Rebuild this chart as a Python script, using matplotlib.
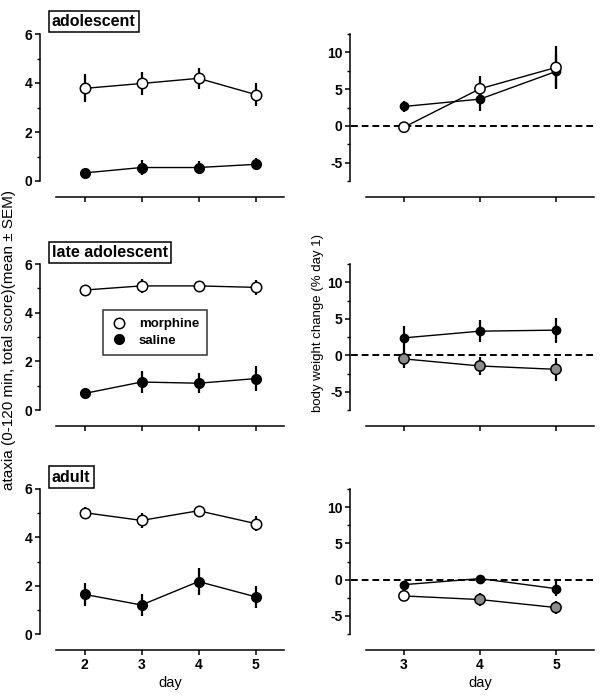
import matplotlib
matplotlib.use("Agg")
import matplotlib.pyplot as plt
from matplotlib.lines import Line2D
from matplotlib.ticker import MultipleLocator

plt.rcParams["font.family"] = ["Liberation Sans", "DejaVu Sans"]
plt.rcParams["axes.unicode_minus"] = False

W, H = 604, 698

days_ataxia = [2, 3, 4, 5]
days_weight = [3, 4, 5]
age_groups = ["adolescent", "late adolescent", "adult"]

# ataxia score (mean, sem) per age group
ataxia_morphine = [[3.78, 3.98, 4.19, 3.53],
                   [4.93, 5.10, 5.10, 5.04],
                   [5.02, 4.70, 5.10, 4.57]]
ataxia_morphine_err = [[0.57, 0.47, 0.42, 0.48],
                       [0.10, 0.30, 0.15, 0.30],
                       [0.22, 0.32, 0.15, 0.30]]
ataxia_saline = [[0.33, 0.55, 0.55, 0.68],
                 [0.68, 1.15, 1.10, 1.29],
                 [1.64, 1.20, 2.17, 1.54]]
ataxia_saline_err = [[0.08, 0.30, 0.25, 0.25],
                     [0.10, 0.46, 0.42, 0.50],
                     [0.47, 0.45, 0.55, 0.45]]

# body weight change (% day 1)
weight_morphine = [[-0.18, 5.05, 7.95],
                   [-0.50, -1.47, -1.93],
                   [-2.25, -2.75, -3.85]]
weight_morphine_err = [[0.50, 1.80, 2.90],
                       [1.20, 1.20, 1.60],
                       [0.60, 0.90, 0.95]]
weight_morphine_face = [["white", "white", "white"],
                        ["#8c8c8c", "#8c8c8c", "#8c8c8c"],
                        ["white", "#8c8c8c", "#8c8c8c"]]
weight_saline = [[2.64, 3.64, 7.40],
                 [2.38, 3.30, 3.44],
                 [-0.69, 0.14, -1.24]]
weight_saline_err = [[0.80, 1.60, 2.30],
                     [1.60, 1.50, 1.70],
                     [0.30, 0.30, 1.00]]

# axes boxes in pixels: (top, bottom) per row, (left, right) per column
rows_px = [(34, 181), (264, 410), (489, 634)]
left_x = (56, 284)
right_x = (366, 594)
title_y = [21.5, 252.5, 477]


def px_axes(x0, x1, y0, y1):
    return fig.add_axes([x0 / W, 1 - y1 / H, (x1 - x0) / W, (y1 - y0) / H])


def style(ax):
    for s in ("top", "right"):
        ax.spines[s].set_visible(False)
    for s in ("left", "bottom"):
        ax.spines[s].set_linewidth(1.1)
        ax.spines[s].set_position(("outward", 11.5))
    ax.tick_params(which="major", length=3.5, width=1.1, pad=2,
                   labelsize=10)
    ax.tick_params(which="minor", length=2.2, width=1.0)
    ax.tick_params(axis="x", which="minor", length=0)
    for lab in ax.get_xticklabels() + ax.get_yticklabels():
        lab.set_fontweight("bold")


fig = plt.figure(figsize=(W / 100, H / 100), dpi=100)

for i, (top, bot) in enumerate(rows_px):
    # ataxia panel
    ax = px_axes(left_x[0], left_x[1], top, bot)
    ax.errorbar(days_ataxia, ataxia_saline[i], yerr=ataxia_saline_err[i],
                color="black", lw=1.0, elinewidth=1.6, capsize=0,
                marker="o", ms=7, mfc="black", mec="black", clip_on=False,
                zorder=3)
    ax.errorbar(days_ataxia, ataxia_morphine[i], yerr=ataxia_morphine_err[i],
                color="black", lw=1.0, elinewidth=1.6, capsize=0,
                marker="o", ms=7.5, mfc="white", mec="black", mew=1.1,
                clip_on=False, zorder=3)
    ax.set_xlim(1.5, 5.5)
    ax.set_ylim(0, 6)
    ax.set_xticks(days_ataxia)
    ax.set_yticks([0, 2, 4, 6])
    ax.yaxis.set_minor_locator(MultipleLocator(1))
    if i < 2:
        ax.set_xticklabels([])
    style(ax)

    fig.text(52 / W, 1 - title_y[i] / H, age_groups[i], fontsize=11.5,
             fontweight="bold", ha="left", va="center",
             bbox=dict(boxstyle="square,pad=0.2", fc="white", ec="black",
                       lw=1.1))

    # body weight panel
    ax2 = px_axes(right_x[0], right_x[1], top, bot)
    ax2.plot([-15 / 228, 1], [0, 0], transform=ax2.get_yaxis_transform(),
             color="black", ls=(0, (3.5, 2)), lw=1.4, clip_on=False,
             zorder=1)
    ax2.errorbar(days_weight, weight_saline[i], yerr=weight_saline_err[i],
                 color="black", lw=1.0, elinewidth=1.6, capsize=0,
                 marker="o", ms=6, mfc="black", mec="black", clip_on=False,
                 zorder=2)
    ax2.errorbar(days_weight, weight_morphine[i], yerr=weight_morphine_err[i],
                 color="black", lw=1.0, elinewidth=1.6, capsize=0,
                 marker="none", clip_on=False, zorder=3)
    ax2.scatter(days_weight, weight_morphine[i], s=55,
                c=weight_morphine_face[i], edgecolors="black",
                linewidths=1.1, zorder=4, clip_on=False)
    ax2.set_xlim(2.5, 5.5)
    ax2.set_ylim(-7.5, 12.5)
    ax2.set_xticks(days_weight)
    ax2.set_yticks([-5, 0, 5, 10])
    ax2.yaxis.set_minor_locator(MultipleLocator(2.5))
    if i < 2:
        ax2.set_xticklabels([])
    style(ax2)

    if i == 2:
        ax.set_xlabel("day", fontsize=10.5, labelpad=3)
        ax2.set_xlabel("day", fontsize=10.5, labelpad=3)

fig.text(9 / W, 1 - 340 / H,
         "ataxia (0-120 min, total score)(mean \u00b1 SEM)",
         rotation=90, ha="center", va="center", fontsize=11)
fig.text(318 / W, 1 - 323 / H, "body weight change (% day 1)",
         rotation=90, ha="center", va="center", fontsize=9.5)

handles = [
    Line2D([], [], ls="none", marker="o", ms=7.5, mfc="white", mec="black",
           mew=1.1),
    Line2D([], [], ls="none", marker="o", ms=7, mfc="black", mec="black"),
]
leg = fig.legend(handles, ["morphine", "saline"], loc="upper left",
                 bbox_to_anchor=(103 / W, 1 - 310 / H), borderaxespad=0,
                 frameon=True, fancybox=False, edgecolor="black",
                 prop={"weight": "bold", "size": 9.5}, handlelength=1.2,
                 handletextpad=0.9, labelspacing=0.35, borderpad=0.6)
leg.get_frame().set_linewidth(1.1)

fig.savefig("out.png", dpi=100)
